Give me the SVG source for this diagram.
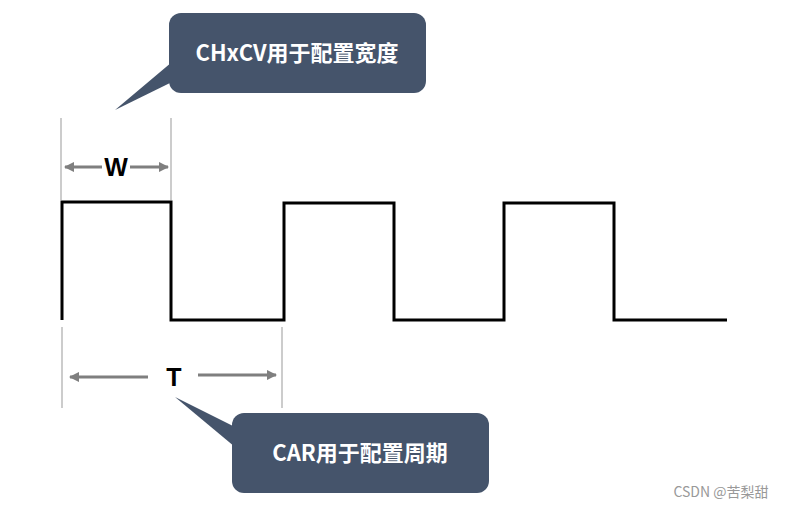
<svg xmlns="http://www.w3.org/2000/svg" width="787" height="508" viewBox="0 0 787 508">
<style>
.callout{fill:#45546b}
.ct{font-family:"Noto Sans CJK SC","Noto Sans",sans-serif;font-weight:bold;font-size:22px;fill:#fff;text-anchor:middle}
.dim{stroke:#999;stroke-width:1;fill:none}
.arr{stroke:#7f7f7f;stroke-width:3;fill:none}
.lbl{font-family:"Liberation Sans",Arial,sans-serif;font-weight:bold;font-size:25px;fill:#000;text-anchor:middle}
.wave{stroke:#000;stroke-width:3;fill:none}
</style>
<defs>
<marker id="ah" viewBox="0 0 10 10" refX="9" refY="5" markerWidth="3.5" markerHeight="3.5" orient="auto-start-reverse" markerUnits="strokeWidth">
<path d="M0,0 L10,5 L0,10 z" fill="#7f7f7f"/>
</marker>
</defs>
<rect width="787" height="508" fill="#fff"/>
<g id="wave">
<path class="wave" d="M62,320 V202 H171 V320 H284 V203 H394 V320 H504 V203 H614 V320 H727"/>
</g>
<g id="connectors">
<line class="dim" x1="61" y1="118" x2="61" y2="200"/>
<line class="dim" x1="171" y1="118" x2="171" y2="200"/>
<line class="arr" x1="102" y1="167" x2="65" y2="167" marker-end="url(#ah)"/>
<line class="arr" x1="130" y1="167" x2="168" y2="167" marker-end="url(#ah)"/>
<line class="dim" x1="62" y1="327" x2="62" y2="408"/>
<line class="dim" x1="282" y1="327" x2="282" y2="408"/>
<line class="arr" x1="148" y1="377" x2="70" y2="377" marker-end="url(#ah)"/>
<line class="arr" x1="198" y1="375" x2="276" y2="375" marker-end="url(#ah)"/>
</g>
<g id="W">
<text class="lbl" x="116" y="176">W</text>
</g>
<g id="T">
<text class="lbl" x="174" y="386">T</text>
</g>
<g id="callout1">
<rect class="callout" x="169" y="13" width="257" height="80" rx="12"/>
<path class="callout" d="M172,62 L115,110 L172,82 Z"/>
<text class="ct" x="297" y="61">CHxCV用于配置宽度</text>
</g>
<g id="callout2">
<rect class="callout" x="232" y="413" width="257" height="80" rx="12"/>
<path class="callout" d="M235,427 L175,397 L235,447 Z"/>
<text class="ct" x="360" y="461">CAR用于配置周期</text>
</g>
<text x="721" y="497" font-family="'Noto Sans CJK SC','Noto Sans',sans-serif" font-size="14" fill="#999" text-anchor="middle">CSDN @苦梨甜</text>
</svg>
